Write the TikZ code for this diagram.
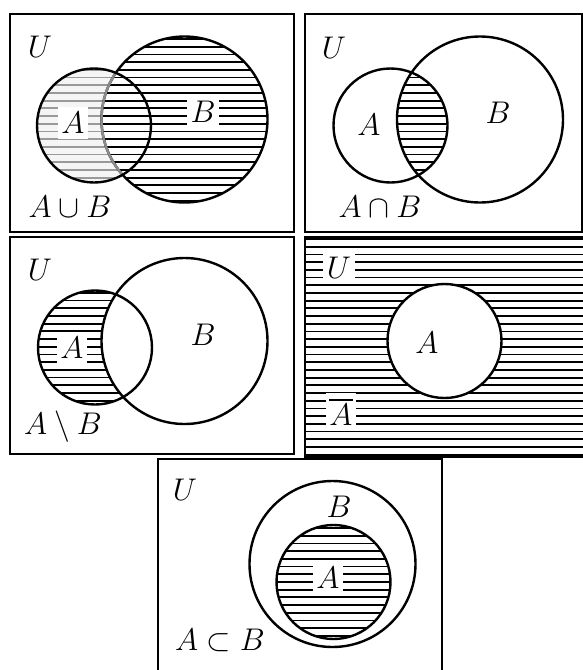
\documentclass[tikz,border=0pt]{standalone}
\usepackage{amsmath,amssymb}
\usepackage{tikz}
\tikzset{
  panel/.style={draw=black,line width=2pt},
  setline/.style={draw=black,line width=2.4pt},
  hatch/.style={draw=black,line width=1.8pt},
  lighthatch/.style={draw=black!40,line width=1.8pt},
  lbl/.style={font=\Huge,scale=1.26,inner sep=1pt,text=black},
  clearlbl/.style={lbl,fill=white,inner xsep=3pt,inner ysep=4pt}
}

\begin{document}
\begin{tikzpicture}[x=1pt,y=-1pt]
  \useasboundingbox (0,0) rectangle (583,670);

  % union
  \begin{scope}
    \clip (184.5,119.5) circle (83pt);
    \foreach \y in {39,46.7,...,232} \draw[hatch] (10,\y) -- (294,\y);
  \end{scope}
  \begin{scope}[even odd rule]
    \clip (94,125.5) circle (57pt);
    \clip (10,14) rectangle (294,232) (184.5,119.5) circle (83pt);
    \fill[black!4] (10,14) rectangle (294,232);
    \foreach \y in {39,46.7,...,232} \draw[lighthatch] (10,\y) -- (294,\y);
  \end{scope}
  \draw[setline] (184.5,119.5) circle (83pt);
  \begin{scope}
    \clip (94,125.5) circle (57pt);
    \draw[setline,draw=black!45] (184.5,119.5) circle (83pt);
  \end{scope}
  \draw[setline] (94,125.5) circle (57pt);
  \node[clearlbl] (a1) at (73,123) {$A$};
  \node[clearlbl] (b1) at (203,112) {$B$};
  \node[lbl] (u1) at (40,47) {$U$};
  \node[lbl,anchor=base] (op1) at (70,217) {$A\cup B$};
  \draw[panel] (10,14) rectangle (294,232);

  % intersection
  \begin{scope}
    \clip (390.5,125.5) circle (57pt);
    \clip (480,119.5) circle (83pt);
    \foreach \y in {39,46.7,...,232} \draw[hatch] (305,\y) -- (582,\y);
  \end{scope}
  \draw[setline] (390.5,125.5) circle (57pt);
  \draw[setline] (480,119.5) circle (83pt);
  \node[lbl] (a2) at (369,125) {$A$};
  \node[lbl] (b2) at (498,113) {$B$};
  \node[lbl] (u2) at (334,48) {$U$};
  \node[lbl,anchor=base] (op2) at (380,217) {$A\cap B$};
  \draw[panel] (305,14) rectangle (582,232);

  % difference
  \begin{scope}[even odd rule]
    \clip (95,347.5) circle (57pt);
    \clip (10,237) rectangle (294,454) (184.5,341) circle (83pt);
    \foreach \y in {262,269.7,...,454} \draw[hatch] (10,\y) -- (294,\y);
  \end{scope}
  \draw[setline] (95,347.5) circle (57pt);
  \draw[setline] (184.5,341) circle (83pt);
  \node[clearlbl] (a3) at (72,348) {$A$};
  \node[lbl] (b3) at (203,335) {$B$};
  \node[lbl] (u3) at (40,270) {$U$};
  \node[lbl,anchor=base] (op3) at (63,434) {$A\setminus B$};
  \draw[panel] (10,237) rectangle (294,454);

  % complement
  \begin{scope}[even odd rule]
    \clip (305,237) rectangle (585,457) (444.5,341) circle (57pt);
    \foreach \y in {239,246.7,...,457} \draw[hatch] (305,\y) -- (585,\y);
  \end{scope}
  \draw[setline] (444.5,341) circle (57pt);
  \node[lbl] (a4) at (427,343) {$A$};
  \node[clearlbl] (u4) at (339,268) {$U$};
  \node[clearlbl] (op4) at (341,412) {$\overline{A}$};
  \draw[panel] (305,237) rectangle (586,457);

  % subset
  \begin{scope}
    \clip (333.5,582) circle (57pt);
    \foreach \y in {528,535.7,...,640} \draw[hatch] (270,\y) -- (400,\y);
  \end{scope}
  \draw[setline] (332.5,564) circle (83pt);
  \draw[setline] (333.5,582) circle (57pt);
  \node[lbl] (b5) at (339,507) {$B$};
  \node[clearlbl] (a5) at (328,578) {$A$};
  \node[lbl] (u5) at (185,490) {$U$};
  \node[lbl,anchor=base] (op5) at (220,650) {$A\subset B$};
  \draw[panel] (158,459) rectangle (442,673);
\end{tikzpicture}
\end{document}
